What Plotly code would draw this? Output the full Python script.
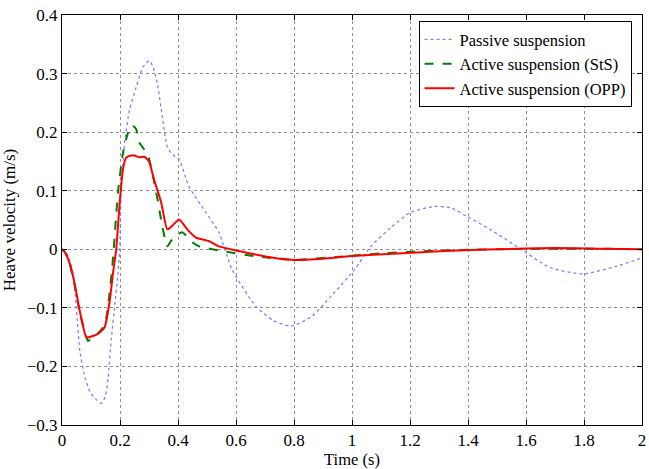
import plotly.graph_objects as go

# Passive suspension
t_pas = [0, 0.02, 0.038, 0.062, 0.08, 0.096, 0.115, 0.136, 0.15, 0.159, 0.17, 0.182, 0.193, 0.199, 0.204,
         0.216, 0.233, 0.256, 0.279, 0.301, 0.315, 0.33, 0.346, 0.363, 0.38, 0.404, 0.438, 0.496, 0.541,
         0.586, 0.668, 0.73, 0.79, 0.86, 0.928, 1.01, 1.065, 1.134, 1.202, 1.284, 1.34, 1.397, 1.476,
         1.568, 1.682, 1.797, 1.911, 2.0]
v_pas = [0, -0.01, -0.04, -0.175, -0.22, -0.243, -0.255, -0.263, -0.25, -0.22, -0.153, -0.096, -0.04, 0,
         0.097, 0.182, 0.238, 0.277, 0.311, 0.322, 0.31, 0.28, 0.226, 0.175, 0.162, 0.153, 0.107, 0.063, 0.029,
         -0.034, -0.097, -0.122, -0.131, -0.115, -0.08, -0.034, 0.005, 0.037, 0.063, 0.073, 0.071, 0.056, 0.034,
         0.005, -0.031, -0.042, -0.029, -0.015]

# Active suspension (StS)
t_sts = [0, 0.01, 0.027, 0.045, 0.062, 0.09, 0.1, 0.115, 0.147, 0.164, 0.176, 0.193, 0.21, 0.227, 0.241,
         0.256, 0.267, 0.284, 0.3, 0.325, 0.346, 0.363, 0.38, 0.414, 0.449, 0.473, 0.551, 0.668, 0.8, 0.95,
         1.1, 1.3, 1.5, 1.7, 1.85, 2.0]
v_sts = [0, -0.005, -0.025, -0.065, -0.11, -0.157, -0.152, -0.148, -0.13, -0.075, -0.015, 0.097, 0.164, 0.198,
         0.212, 0.205, 0.182, 0.17, 0.155, 0.097, 0.039, 0.005, 0.017, 0.029, 0.012, 0.005, -0.003, -0.012,
         -0.018, -0.013, -0.007, -0.002, 0.0, 0.001, 0.001, 0.0]

# Active suspension (OPP)
t_opp = [0, 0.01, 0.027, 0.045, 0.062, 0.084, 0.1, 0.113, 0.13, 0.147, 0.164, 0.176, 0.187, 0.199, 0.21,
         0.221, 0.238, 0.25, 0.267, 0.284, 0.3, 0.318, 0.342, 0.363, 0.38, 0.404, 0.432, 0.462, 0.507, 0.541,
         0.61, 0.723, 0.79, 0.9, 0.986, 1.158, 1.32, 1.5, 1.7, 1.85, 2.0]
v_opp = [0, -0.005, -0.025, -0.062, -0.107, -0.15, -0.149, -0.147, -0.142, -0.133, -0.09, -0.04, 0, 0.08, 0.136,
         0.156, 0.16, 0.16, 0.157, 0.158, 0.15, 0.118, 0.08, 0.034, 0.04, 0.051, 0.034, 0.02, 0.014, 0.005,
         -0.003, -0.014, -0.018, -0.016, -0.012, -0.007, -0.003, 0.0, 0.002, 0.001, 0.0]

x_ticks = [0, 0.2, 0.4, 0.6, 0.8, 1, 1.2, 1.4, 1.6, 1.8, 2]
x_labels = ["0", "0.2", "0.4", "0.6", "0.8", "1", "1.2", "1.4", "1.6", "1.8", "2"]
y_ticks = [-0.3, -0.2, -0.1, 0, 0.1, 0.2, 0.3, 0.4]
y_labels = ["\u22120.3", "\u22120.2", "\u22120.1", "0", "0.1", "0.2", "0.3", "0.4"]

font = "Liberation Serif, Times New Roman, serif"

fig = go.Figure()
fig.add_trace(go.Scatter(x=t_pas, y=v_pas, mode="lines", name="Passive suspension",
                         line=dict(color="#8080ff", width=1.3, dash="dot", shape="spline", smoothing=0.6)))
fig.add_trace(go.Scatter(x=t_sts, y=v_sts, mode="lines", name="Active suspension (StS)",
                         line=dict(color="#007f00", width=2, dash="dash", shape="spline", smoothing=0.5)))
fig.add_trace(go.Scatter(x=t_opp, y=v_opp, mode="lines", name="Active suspension (OPP)",
                         line=dict(color="#ff0000", width=2, shape="spline", smoothing=0.5)))

axis_common = dict(showline=True, linecolor="black", linewidth=1, mirror="ticks", ticks="inside",
                   ticklen=5, tickcolor="black", showgrid=True, gridcolor="#909090", griddash="dot",
                   gridwidth=1, zeroline=False, ticklabeloverflow="allow",
                   tickfont=dict(family=font, size=17, color="black"))

fig.update_xaxes(range=[0, 2], tickvals=x_ticks, ticktext=x_labels,
                 title=dict(text="Time (s)", font=dict(family=font, size=16.5, color="black"), standoff=4),
                 **axis_common)
fig.update_yaxes(range=[-0.3, 0.4], tickvals=y_ticks, ticktext=y_labels,
                 title=dict(text="Heave velocity (m/s)", font=dict(family=font, size=17, color="black"), standoff=10),
                 **axis_common)

fig.update_layout(
    width=649, height=469,
    margin=dict(l=62, r=3, t=15, b=42),
    paper_bgcolor="white", plot_bgcolor="white",
    font=dict(family=font, size=17, color="black"),
    legend=dict(x=0.982, y=0.985, xanchor="right", yanchor="top",
                bgcolor="white", bordercolor="black", borderwidth=1,
                font=dict(family=font, size=16.5, color="black"),
                tracegroupgap=0, itemwidth=30),
    showlegend=True,
)

fig.write_html("out.html")
